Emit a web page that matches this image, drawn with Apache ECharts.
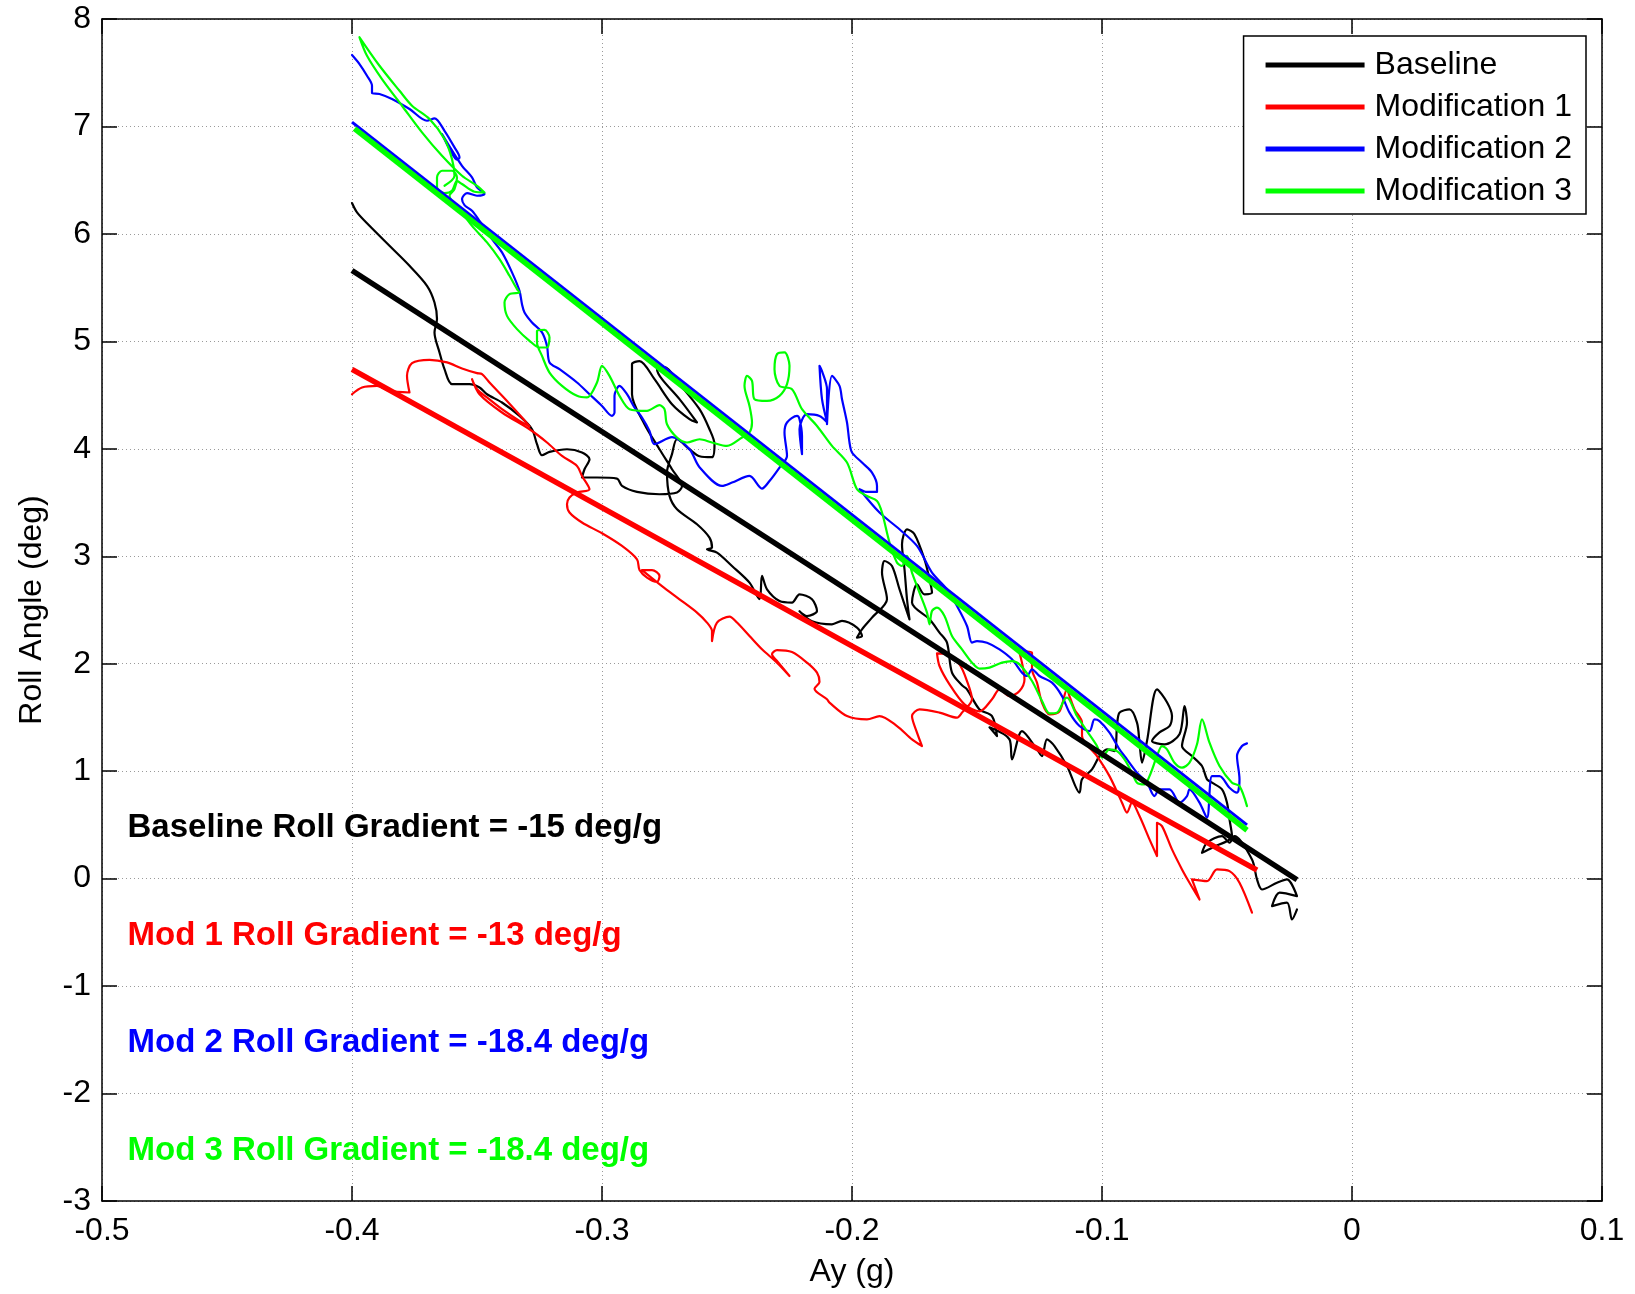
<!DOCTYPE html>
<html><head><meta charset="utf-8">
<script src="https://cdn.jsdelivr.net/npm/echarts@6/dist/echarts.min.js"></script>
<style>html,body{margin:0;padding:0;background:#fff;}#c{width:1635px;height:1294px;}</style>
</head><body><div id="c"></div>
<script>
// ---------- data ----------
const seriesNames = ['Baseline', 'Modification 1', 'Modification 2', 'Modification 3'];
const seriesColors = ['#000000', '#ff0000', '#0000ff', '#00ff00'];

const baselineX = [-0.400,-0.398,-0.393,-0.385,-0.377,-0.370,-0.367,-0.366,-0.367,-0.365,
-0.363,-0.360,-0.353,-0.349,-0.346,-0.340,-0.333,-0.328,-0.326,-0.324,
-0.321,-0.314,-0.308,-0.305,-0.307,-0.308,-0.302,-0.294,-0.292,-0.286,
-0.277,-0.270,-0.268,-0.272,-0.277,-0.283,-0.288,-0.288,-0.285,-0.279,
-0.272,-0.265,-0.262,-0.269,-0.276,-0.278,-0.275,-0.269,-0.261,-0.257,
-0.255,-0.256,-0.261,-0.265,-0.270,-0.272,-0.274,-0.273,-0.270,-0.262,
-0.257,-0.256,-0.258,-0.254,-0.248,-0.241,-0.237,-0.236,-0.234,-0.229,
-0.224,-0.221,-0.216,-0.214,-0.218,-0.221,-0.216,-0.208,-0.204,-0.198,
-0.196,-0.198,-0.196,-0.192,-0.186,-0.188,-0.187,-0.184,-0.181,-0.177,
-0.178,-0.179,-0.180,-0.178,-0.175,-0.171,-0.169,-0.168,-0.171,-0.174,
-0.176,-0.169,-0.165,-0.162,-0.160,-0.156,-0.154,-0.149,-0.144,-0.142,
-0.145,-0.137,-0.136,-0.132,-0.126,-0.124,-0.122,-0.119,-0.114,-0.109,
-0.108,-0.104,-0.101,-0.098,-0.095,-0.094,-0.093,-0.089,-0.086,-0.085,
-0.084,-0.082,-0.078,-0.074,-0.072,-0.073,-0.077,-0.080,-0.075,-0.069,
-0.067,-0.066,-0.068,-0.064,-0.060,-0.058,-0.056,-0.052,-0.050,-0.049,
-0.048,-0.056,-0.060,-0.058,-0.052,-0.049,-0.047,-0.040,-0.038,-0.036,
-0.030,-0.026,-0.022,-0.029,-0.032,-0.026,-0.024,-0.022];
const baselineY = [6.287,6.200,6.075,5.889,5.703,5.517,5.362,5.207,5.083,4.897,
4.741,4.602,4.602,4.571,4.508,4.431,4.306,4.182,4.043,3.940,
3.971,3.996,3.966,3.903,3.810,3.733,3.733,3.723,3.655,3.599,
3.577,3.593,3.655,3.810,3.996,4.229,4.508,4.788,4.816,4.648,
4.415,4.276,4.245,4.462,4.648,4.741,4.760,4.602,4.369,4.182,
4.043,3.922,3.931,3.996,4.089,3.950,3.782,3.562,3.438,3.298,
3.174,3.081,3.065,3.034,2.910,2.755,2.600,2.817,2.693,2.584,
2.569,2.646,2.600,2.491,2.444,2.488,2.395,2.367,2.398,2.336,
2.258,2.243,2.320,2.429,2.600,2.848,2.956,2.910,2.693,2.413,
2.600,2.879,3.112,3.251,3.205,2.972,2.786,2.662,2.646,2.739,
2.569,2.413,2.290,2.196,1.917,1.799,1.762,1.575,1.513,1.327,
1.408,1.296,1.110,1.373,1.203,1.141,1.296,1.234,1.048,0.800,
0.924,1.017,1.141,1.203,1.187,1.420,1.545,1.575,1.452,1.265,
1.079,1.280,1.762,1.641,1.513,1.420,1.361,1.280,1.250,1.343,
1.606,1.454,1.234,1.141,1.048,0.924,0.893,0.831,0.707,0.551,
0.396,0.288,0.241,0.334,0.396,0.334,0.396,0.179,-0.007,-0.101,
-0.038,-0.007,-0.163,-0.131,-0.256,-0.224,-0.380,-0.287];

const mod1X = [-0.400,-0.396,-0.390,-0.385,-0.377,-0.378,-0.376,-0.369,-0.362,-0.356,
-0.350,-0.348,-0.345,-0.338,-0.332,-0.329,-0.333,-0.340,-0.346,-0.350,
-0.352,-0.349,-0.340,-0.329,-0.322,-0.316,-0.310,-0.308,-0.305,-0.310,
-0.313,-0.314,-0.313,-0.308,-0.300,-0.292,-0.286,-0.285,-0.282,-0.278,
-0.277,-0.280,-0.284,-0.276,-0.269,-0.262,-0.258,-0.256,-0.256,-0.254,
-0.249,-0.246,-0.241,-0.236,-0.230,-0.225,-0.230,-0.232,-0.230,-0.224,
-0.218,-0.214,-0.213,-0.215,-0.210,-0.209,-0.202,-0.194,-0.189,-0.182,
-0.176,-0.172,-0.174,-0.176,-0.173,-0.165,-0.158,-0.156,-0.152,-0.154,
-0.157,-0.162,-0.166,-0.165,-0.161,-0.155,-0.149,-0.144,-0.141,-0.137,
-0.133,-0.131,-0.133,-0.134,-0.131,-0.128,-0.128,-0.126,-0.124,-0.121,
-0.117,-0.114,-0.113,-0.111,-0.108,-0.108,-0.102,-0.097,-0.092,-0.090,
-0.088,-0.085,-0.081,-0.078,-0.078,-0.076,-0.072,-0.068,-0.065,-0.061,
-0.064,-0.058,-0.054,-0.049,-0.045,-0.040];
const mod1Y = [4.508,4.571,4.586,4.539,4.524,4.679,4.797,4.828,4.804,4.748,
4.704,4.695,4.617,4.446,4.291,4.208,4.260,4.369,4.478,4.555,
4.648,4.508,4.338,4.182,4.059,3.934,3.841,3.748,3.624,3.593,
3.547,3.484,3.407,3.314,3.214,3.096,2.972,2.872,2.802,2.761,
2.817,2.872,2.872,2.723,2.600,2.476,2.383,2.304,2.211,2.383,
2.439,2.383,2.258,2.134,2.010,1.886,2.025,2.088,2.127,2.109,
2.010,1.917,1.830,1.768,1.669,1.638,1.513,1.482,1.513,1.420,
1.296,1.234,1.358,1.513,1.575,1.545,1.498,1.545,1.669,1.839,
1.994,2.088,2.097,1.979,1.808,1.622,1.557,1.669,1.762,1.699,
1.746,1.855,2.103,2.118,2.115,2.103,1.948,1.824,1.638,1.529,
1.557,1.762,1.699,1.575,1.452,1.327,1.141,0.954,0.707,0.614,
0.707,0.582,0.365,0.210,0.520,0.489,0.272,0.086,-0.038,-0.194,
-0.007,-0.023,0.086,0.070,-0.038,-0.317];

const mod2X = [-0.400,-0.397,-0.394,-0.392,-0.392,-0.389,-0.384,-0.377,-0.370,-0.367,
-0.363,-0.359,-0.357,-0.358,-0.361,-0.364,-0.356,-0.352,-0.350,-0.347,
-0.350,-0.354,-0.356,-0.355,-0.352,-0.349,-0.344,-0.340,-0.336,-0.333,
-0.332,-0.331,-0.328,-0.324,-0.322,-0.321,-0.317,-0.310,-0.305,-0.300,
-0.296,-0.295,-0.295,-0.293,-0.290,-0.287,-0.284,-0.281,-0.279,-0.272,
-0.265,-0.261,-0.252,-0.248,-0.241,-0.236,-0.233,-0.229,-0.226,-0.227,
-0.226,-0.222,-0.221,-0.220,-0.220,-0.221,-0.218,-0.213,-0.210,-0.212,
-0.213,-0.212,-0.210,-0.210,-0.208,-0.205,-0.204,-0.202,-0.201,-0.200,
-0.196,-0.192,-0.190,-0.190,-0.194,-0.197,-0.189,-0.181,-0.174,-0.168,
-0.162,-0.158,-0.154,-0.152,-0.150,-0.146,-0.141,-0.136,-0.132,-0.130,
-0.128,-0.125,-0.120,-0.116,-0.113,-0.109,-0.105,-0.103,-0.101,-0.097,
-0.093,-0.090,-0.086,-0.082,-0.079,-0.077,-0.073,-0.069,-0.066,-0.065,
-0.061,-0.058,-0.056,-0.053,-0.049,-0.046,-0.045,-0.046,-0.044,-0.042];
const mod2Y = [7.665,7.581,7.472,7.379,7.311,7.302,7.255,7.162,7.053,7.075,
6.960,6.805,6.712,6.690,6.790,6.929,6.634,6.526,6.433,6.371,
6.355,6.380,6.324,6.268,6.215,6.122,5.952,5.828,5.642,5.470,
5.346,5.269,5.176,5.083,4.958,4.804,4.741,4.617,4.508,4.399,
4.306,4.338,4.493,4.586,4.508,4.385,4.291,4.167,4.043,4.108,
3.996,3.829,3.655,3.686,3.748,3.630,3.701,3.826,3.934,4.152,
4.245,4.306,4.276,4.120,3.950,4.182,4.322,4.306,4.248,4.462,
4.772,4.723,4.555,4.229,4.679,4.586,4.462,4.245,4.059,3.966,
3.872,3.779,3.655,3.599,3.599,3.624,3.407,3.251,3.096,2.848,
2.693,2.537,2.351,2.196,2.211,2.196,2.134,2.041,1.917,1.886,
1.948,1.886,1.824,1.699,1.545,1.420,1.373,1.482,1.466,1.359,
1.203,1.110,0.986,0.893,0.768,0.831,0.831,0.707,0.768,0.831,
0.707,0.567,0.954,0.954,0.846,0.800,0.924,1.141,1.234,1.259];

const mod3X = [-0.363,-0.359,-0.360,-0.363,-0.369,-0.376,-0.381,-0.389,-0.397,-0.394,
-0.388,-0.380,-0.372,-0.364,-0.356,-0.350,-0.347,-0.351,-0.356,-0.358,
-0.360,-0.363,-0.366,-0.366,-0.364,-0.360,-0.358,-0.359,-0.361,-0.356,
-0.352,-0.346,-0.341,-0.337,-0.334,-0.333,-0.337,-0.339,-0.338,-0.334,
-0.329,-0.325,-0.322,-0.321,-0.323,-0.326,-0.326,-0.324,-0.321,-0.316,
-0.310,-0.306,-0.302,-0.300,-0.297,-0.293,-0.289,-0.282,-0.277,-0.275,
-0.274,-0.270,-0.266,-0.261,-0.256,-0.250,-0.244,-0.241,-0.240,-0.241,
-0.243,-0.242,-0.240,-0.239,-0.234,-0.229,-0.226,-0.225,-0.227,-0.230,
-0.231,-0.229,-0.224,-0.220,-0.214,-0.208,-0.202,-0.198,-0.194,-0.190,
-0.188,-0.185,-0.182,-0.180,-0.178,-0.176,-0.173,-0.170,-0.169,-0.168,
-0.166,-0.163,-0.160,-0.156,-0.152,-0.149,-0.145,-0.140,-0.136,-0.133,
-0.128,-0.124,-0.121,-0.118,-0.115,-0.114,-0.110,-0.106,-0.102,-0.100,
-0.097,-0.094,-0.091,-0.088,-0.086,-0.083,-0.081,-0.078,-0.076,-0.074,
-0.071,-0.068,-0.065,-0.062,-0.060,-0.057,-0.053,-0.048,-0.045,-0.042];
const mod3Y = [6.448,6.541,6.696,6.883,7.069,7.193,7.332,7.565,7.830,7.658,
7.441,7.193,6.945,6.727,6.541,6.448,6.386,6.392,6.464,6.494,
6.401,6.380,6.433,6.526,6.588,6.588,6.526,6.417,6.355,6.200,
6.075,5.921,5.765,5.610,5.486,5.455,5.440,5.362,5.237,5.114,
5.005,4.943,4.943,5.036,5.107,5.098,4.990,4.865,4.710,4.586,
4.493,4.478,4.617,4.772,4.679,4.493,4.369,4.353,4.406,4.369,
4.229,4.105,4.059,4.089,4.059,4.027,4.105,4.152,4.245,4.399,
4.586,4.679,4.632,4.462,4.446,4.493,4.602,4.772,4.897,4.881,
4.741,4.586,4.555,4.369,4.213,4.027,3.872,3.624,3.561,3.515,
3.407,3.128,2.941,2.910,3.003,2.848,2.662,2.476,2.367,2.491,
2.522,2.444,2.258,2.134,2.010,1.954,1.964,2.010,2.025,1.994,
1.839,1.653,1.538,1.545,1.669,1.684,1.513,1.373,1.234,1.126,
1.203,1.187,1.110,0.986,0.893,0.877,0.954,1.141,1.234,1.203,
1.079,1.033,1.079,1.250,1.482,1.265,1.048,0.893,0.861,0.675];

// linear fits (end points)
const baselineFitX = [-0.400, -0.022];
const baselineFitY = [5.66, -0.01];
const mod1FitX = [-0.400, -0.038];
const mod1FitY = [4.74, 0.08];
const mod2FitX = [-0.400, -0.042];
const mod2FitY = [7.04, 0.50];
const mod3FitX = [-0.399, -0.042];
const mod3FitY = [6.98, 0.45];

// annotations
const annotText = ['Baseline Roll Gradient = -15 deg/g', 'Mod 1 Roll Gradient = -13 deg/g',
                   'Mod 2 Roll Gradient = -18.4 deg/g', 'Mod 3 Roll Gradient = -18.4 deg/g'];
const annotX = [-0.49, -0.49, -0.49, -0.49];
const annotY = [0.47, -0.53, -1.53, -2.53];

// axes
const xMin = -0.5, xMax = 0.1, xStep = 0.1;
const yMin = -3, yMax = 8, yStep = 1;

// ---------- chart ----------
const FONT = '"Liberation Sans", Arial, Helvetica, sans-serif';
const zip = (xs, ys) => xs.map((x, i) => [x, ys[i]]);

const rawSets = [[baselineX, baselineY], [mod1X, mod1Y], [mod2X, mod2Y], [mod3X, mod3Y]];
const fitSets = [[baselineFitX, baselineFitY], [mod1FitX, mod1FitY], [mod2FitX, mod2FitY], [mod3FitX, mod3FitY]];
const fitWidths = [5.5, 5.5, 3, 5.5];

const series = [];
rawSets.forEach((s, i) => {
  series.push({
    name: seriesNames[i], type: 'line', data: zip(s[0], s[1]),
    symbol: 'none', showSymbol: false, smooth: 0.3, z: 2,
    color: seriesColors[i],
    lineStyle: { color: seriesColors[i], width: 2.2, join: 'round', cap: 'round' },
    emphasis: { disabled: true }
  });
});
fitSets.forEach((s, i) => {
  series.push({
    name: seriesNames[i] + ' fit', type: 'line', data: zip(s[0], s[1]),
    symbol: 'none', showSymbol: false, z: 3,
    color: seriesColors[i],
    lineStyle: { color: seriesColors[i], width: fitWidths[i], cap: 'butt' },
    emphasis: { disabled: true }
  });
});
series.push({
  name: 'annotations', type: 'scatter', z: 5,
  symbolSize: 1, itemStyle: { color: 'rgba(255,255,255,0)', opacity: 1 },
  data: annotX.map((x, i) => ({
    name: annotText[i], value: [x, annotY[i]],
    label: { color: seriesColors[i] }
  })),
  label: {
    show: true, position: 'right', distance: 0, formatter: '{b}', opacity: 1,
    textBorderWidth: 0,
    fontFamily: FONT, fontSize: 33, fontWeight: 'bold', verticalAlign: 'middle'
  },
  emphasis: { disabled: true }, silent: true
});

const tickFmt = v => { const r = Math.round(v * 10) / 10; return r === 0 ? '0' : String(r); };
const axisCommon = {
  axisLine: { show: true, onZero: false, lineStyle: { color: '#000', width: 1.5 } },
  axisTick: { show: true, inside: true, length: 15, lineStyle: { color: '#000', width: 1.5 } }
};
const grid = { left: 102, top: 19, width: 1500, height: 1182, show: false };

const option = {
  animation: false,
  backgroundColor: '#ffffff',
  grid: grid,
  legend: {
    data: seriesNames, orient: 'vertical', right: 49, top: 36,
    backgroundColor: '#fff', borderColor: '#000', borderWidth: 1.5, borderRadius: 0,
    padding: [13, 14, 7, 22], itemWidth: 99, itemHeight: 5, itemGap: 10, icon: 'rect',
    selectedMode: false,
    textStyle: { fontFamily: FONT, fontSize: 32, color: '#000', lineHeight: 30, padding: [0, 0, 0, 5] }
  },
  xAxis: [
    Object.assign({
      type: 'value', min: xMin, max: xMax, interval: xStep, position: 'bottom',
      name: 'Ay (g)', nameLocation: 'middle', nameGap: 55,
      nameTextStyle: { fontFamily: FONT, fontSize: 32, color: '#000' },
      axisLabel: { fontFamily: FONT, fontSize: 32, color: '#000', margin: 14, formatter: tickFmt, showMinLabel: true, showMaxLabel: true },
      splitLine: { show: true, lineStyle: { color: '#9a9a9a', width: 1, type: [1, 3] } }
    }, axisCommon),
    Object.assign({
      type: 'value', min: xMin, max: xMax, interval: xStep, position: 'top',
      axisLabel: { show: false }, splitLine: { show: false }
    }, axisCommon)
  ],
  yAxis: [
    Object.assign({
      type: 'value', min: yMin, max: yMax, interval: yStep, position: 'left',
      name: 'Roll Angle (deg)', nameLocation: 'middle', nameGap: 54, nameRotate: 90,
      nameTextStyle: { fontFamily: FONT, fontSize: 32, color: '#000' },
      axisLabel: { fontFamily: FONT, fontSize: 32, color: '#000', margin: 11, showMinLabel: true, showMaxLabel: true },
      splitLine: { show: true, lineStyle: { color: '#9a9a9a', width: 1, type: [1, 3] } }
    }, axisCommon),
    Object.assign({
      type: 'value', min: yMin, max: yMax, interval: yStep, position: 'right',
      axisLabel: { show: false }, splitLine: { show: false }
    }, axisCommon)
  ],
  series: series
};

const chart = echarts.init(document.getElementById('c'), null, { renderer: 'canvas', width: 1635, height: 1294 });
chart.setOption(option);
</script>
</body></html>
